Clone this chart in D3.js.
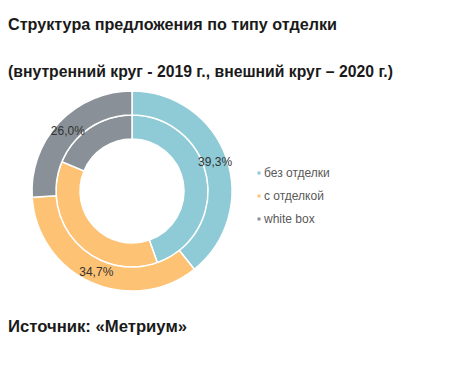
<!DOCTYPE html>
<html><head><meta charset="utf-8">
<script src="https://cdn.jsdelivr.net/npm/d3@7"></script>
<style>html,body{margin:0;padding:0;background:#fff;}svg{display:block;}</style>
</head><body>
<svg id="c" width="450" height="365"></svg>
<script>
const categories = ["без отделки", "с отделкой", "white box"];
const values2019 = [44.6, 36.7, 18.7];
const values2020 = [39.3, 34.7, 26.0];
const labels2020 = ["39,3%", "34,7%", "26,0%"];
const colors = ["#8ECBD6", "#FDC274", "#899097"];
const title = "Структура предложения по типу отделки";
const subtitle = "(внутренний круг - 2019 г., внешний круг – 2020 г.)";
const source = "Источник: «Метриум»";

const svg = d3.select("#c");
const font = "'Liberation Sans', Arial, sans-serif";

function heading(txt, y, w) {
  svg.append("text").attr("x", 8).attr("y", y).attr("font-family", font)
    .attr("font-weight", "bold").attr("font-size", 16).attr("fill", "#1a1a1a")
    .attr("textLength", w).attr("lengthAdjust", "spacingAndGlyphs").text(txt);
}
heading(title, 30, 329);
heading(subtitle, 77, 385);
heading(source, 332, 179);

const cx = 132, cy = 191;
const g = svg.append("g").attr("transform", `translate(${cx},${cy})`);
const pie = d3.pie().sort(null).value(d => d);
const arcInner = d3.arc().innerRadius(52).outerRadius(76);
const arcOuter = d3.arc().innerRadius(76).outerRadius(100);
const arcLabel = d3.arc().innerRadius(88).outerRadius(88);

g.selectAll("path.in").data(pie(values2019)).join("path").attr("class", "in")
  .attr("d", arcInner).attr("fill", (d, i) => colors[i])
  .attr("stroke", "#fff").attr("stroke-width", 1.5);
g.selectAll("path.out").data(pie(values2020)).join("path").attr("class", "out")
  .attr("d", arcOuter).attr("fill", (d, i) => colors[i])
  .attr("stroke", "#fff").attr("stroke-width", 1.5);

g.selectAll("text.lab").data(pie(values2020)).join("text").attr("class", "lab")
  .attr("transform", d => `translate(${arcLabel.centroid(d)})`)
  .attr("text-anchor", "middle").attr("dy", "0.35em")
  .attr("font-family", font).attr("font-size", 12).attr("fill", "#333333")
  .text((d, i) => labels2020[i]);

const y = d3.scalePoint().domain(categories).range([173, 219]);
const lg = svg.append("g");
lg.selectAll("rect").data(categories).join("rect")
  .attr("x", 257.5).attr("y", d => y(d) - 1.5).attr("width", 3).attr("height", 3)
  .attr("fill", (d, i) => colors[i]);
lg.selectAll("text").data(categories).join("text")
  .attr("x", 264).attr("y", d => y(d)).attr("dy", "0.35em")
  .attr("font-family", font).attr("font-size", 12).attr("fill", "#595959")
  .text(d => d);
</script>
</body></html>
